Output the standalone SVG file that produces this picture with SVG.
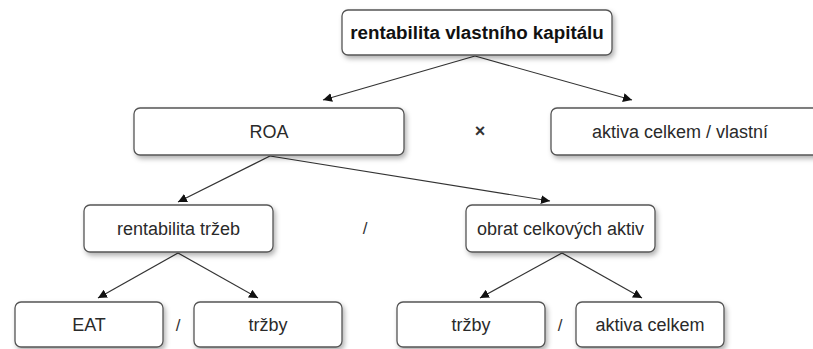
<svg xmlns="http://www.w3.org/2000/svg" width="813" height="349" viewBox="0 0 813 349">
<style>
.box{fill:#fff;stroke:#555;stroke-width:1.3;filter:url(#sh)}
.t{font-family:"Liberation Sans",Arial,sans-serif;font-size:18px;fill:#2a2a2a;text-anchor:middle;dominant-baseline:central}
.b{font-weight:bold;font-size:18.8px;fill:#111}
.op{font-family:"Liberation Sans",Arial,sans-serif;font-size:17px;fill:#333;text-anchor:middle;dominant-baseline:central}
.x{font-weight:bold;font-size:18px}
.c{stroke:#333;stroke-width:1.2;fill:none;marker-end:url(#ah)}
</style>
<defs>
<filter id="sh" x="-10%" y="-20%" width="130%" height="160%">
<feDropShadow dx="2" dy="3" stdDeviation="2.5" flood-color="#000" flood-opacity="0.3"/>
</filter>
<marker id="ah" viewBox="0 0 10 10" refX="10" refY="5" markerWidth="9" markerHeight="9" markerUnits="userSpaceOnUse" orient="auto">
<path d="M0,0 L10,5 L0,10 z" fill="#111"/>
</marker>
</defs>
<g id="connectors">
<line class="c" x1="475" y1="56" x2="323" y2="100"/>
<line class="c" x1="475" y1="56" x2="632" y2="100"/>
<line class="c" x1="270" y1="156" x2="178" y2="202"/>
<line class="c" x1="270" y1="156" x2="550" y2="201"/>
<line class="c" x1="178" y1="253" x2="98" y2="298"/>
<line class="c" x1="178" y1="253" x2="258" y2="298"/>
<line class="c" x1="562" y1="253" x2="480" y2="298"/>
<line class="c" x1="562" y1="253" x2="642" y2="298"/>
</g>
<g id="n-roe"><rect class="box" x="342" y="10" width="270" height="45" rx="6"/><text class="t b" x="477" y="32.5">rentabilita vlastního kapitálu</text></g>
<g id="n-roa"><rect class="box" x="134" y="108" width="270" height="47" rx="6"/><text class="t" x="269" y="131.5">ROA</text></g>
<g id="n-akv"><rect class="box" x="551" y="108" width="270" height="47" rx="6"/><text class="t" x="680" y="131.5">aktiva celkem / vlastní</text></g>
<g id="n-rt"><rect class="box" x="84" y="205" width="189" height="47" rx="6"/><text class="t" x="178.5" y="228.5">rentabilita tržeb</text></g>
<g id="n-oca"><rect class="box" x="466" y="205" width="189" height="47" rx="6"/><text class="t" x="560.5" y="228.5">obrat celkových aktiv</text></g>
<g id="n-eat"><rect class="box" x="15" y="302" width="148" height="45" rx="6"/><text class="t" x="89" y="325">EAT</text></g>
<g id="n-trzby1"><rect class="box" x="194" y="302" width="148" height="45" rx="6"/><text class="t" x="268" y="325">tržby</text></g>
<g id="n-trzby2"><rect class="box" x="397" y="302" width="148" height="45" rx="6"/><text class="t" x="471" y="325">tržby</text></g>
<g id="n-ac"><rect class="box" x="576" y="302" width="148" height="45" rx="6"/><text class="t" x="650" y="325">aktiva celkem</text></g>
<g id="operators">
<text class="op x" x="480" y="131">×</text>
<text class="op" x="365" y="228">/</text>
<text class="op" x="178" y="325">/</text>
<text class="op" x="560" y="325">/</text>
</g>
</svg>
